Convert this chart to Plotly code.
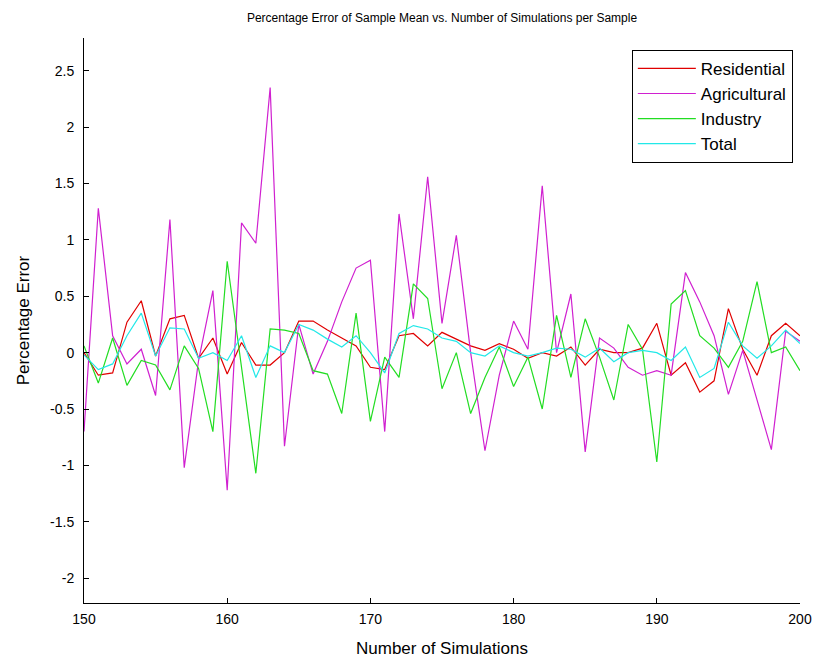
import plotly.graph_objects as go

simulations = list(range(150, 201))

residential = [0.0, -0.2, -0.18, 0.27, 0.46, -0.03, 0.3, 0.33, -0.05, 0.13,
               -0.19, 0.09, -0.11, -0.11, 0.0, 0.28, 0.28, 0.2, 0.13, 0.06,
               -0.13, -0.15, 0.15, 0.17, 0.06, 0.18, 0.12, 0.06, 0.02, 0.08,
               0.03, -0.05, 0.0, -0.03, 0.05, -0.11, 0.03, 0.0, 0.0, 0.04,
               0.26, -0.2, -0.09, -0.35, -0.25, 0.39, 0.03, -0.2, 0.15, 0.26,
               0.15]

agricultural = [-0.7, 1.28, 0.15, -0.1, 0.03, -0.38, 1.18, -1.02, -0.07, 0.55,
                -1.22, 1.15, 0.97, 2.35, -0.83, 0.25, -0.19, 0.1, 0.45, 0.75,
                0.82, -0.7, 1.23, 0.3, 1.56, 0.26, 1.04, 0.0, -0.87, -0.2,
                0.28, 0.03, 1.48, 0.0, 0.52, -0.88, 0.13, 0.04, -0.13, -0.2,
                -0.16, -0.2, 0.71, 0.45, 0.15, -0.37, 0.02, -0.42, -0.86, 0.19,
                0.1]

industry = [0.06, -0.27, 0.13, -0.29, -0.07, -0.11, -0.33, 0.06, -0.14, -0.7,
            0.81, -0.13, -1.07, 0.21, 0.2, 0.17, -0.16, -0.19, -0.54, 0.35,
            -0.61, -0.04, -0.22, 0.61, 0.48, -0.32, 0.0, -0.54, -0.22, 0.05,
            -0.3, -0.04, -0.5, 0.33, -0.22, 0.3, -0.04, -0.42, 0.25, 0.03,
            -0.97, 0.43, 0.55, 0.15, 0.04, -0.13, 0.1, 0.63, 0.0, 0.05,
            -0.16]

total = [-0.02, -0.15, -0.1, 0.15, 0.35, -0.03, 0.22, 0.21, -0.05, 0.0,
         -0.07, 0.15, -0.22, 0.06, 0.0, 0.25, 0.2, 0.12, 0.05, 0.15,
         0.0, -0.18, 0.17, 0.24, 0.21, 0.13, 0.1, 0.0, -0.03, 0.06,
         0.0, -0.03, 0.0, 0.04, 0.03, -0.04, 0.04, -0.08, 0.0, 0.02,
         0.0, -0.07, 0.05, -0.22, -0.14, 0.27, 0.06, -0.05, 0.06, 0.2,
         0.08]

x_tick_vals = [150, 160, 170, 180, 190, 200]
x_tick_text = ["150", "160", "170", "180", "190", "200"]
y_tick_vals = [2.5, 2, 1.5, 1, 0.5, 0, -0.5, -1, -1.5, -2]
y_tick_text = ["2.5", "2", "1.5", "1", "0.5", "0", "-0.5", "-1", "-1.5", "-2"]

series = [
    ("Residential", residential, "#e00000"),
    ("Agricultural", agricultural, "#d020d0"),
    ("Industry", industry, "#22dd22"),
    ("Total", total, "#22e8e8"),
]

fig = go.Figure()
for name, vals, color in series:
    fig.add_trace(go.Scatter(
        x=simulations, y=vals, mode="lines", name=name, legendgroup=name,
        line=dict(color=color, width=1.2),
    ))

font_family = "Liberation Sans, Arial, sans-serif"

fig.update_layout(
    width=816, height=664,
    margin=dict(l=84, r=16, t=38, b=61),
    paper_bgcolor="white", plot_bgcolor="white",
    font=dict(family=font_family, color="black", size=13),
    title=dict(
        text="Percentage Error of Sample Mean vs. Number of Simulations per Sample",
        x=(84 + 800) / 2 / 816, xanchor="center",
        y=1 - 18 / 664, yanchor="middle",
        font=dict(size=12, family=font_family, color="black"),
    ),
    xaxis=dict(
        range=[150, 200], tickvals=x_tick_vals, ticktext=x_tick_text,
        ticks="inside", ticklen=5, tickcolor="black", showline=True,
        linecolor="black", linewidth=1, showgrid=False, zeroline=False,
        tickfont=dict(size=14), ticklabelstandoff=3, automargin=False,
        title=dict(text="Number of Simulations", font=dict(size=17), standoff=16),
    ),
    yaxis=dict(
        range=[-2.22, 2.79], tickvals=y_tick_vals, ticktext=y_tick_text,
        ticks="inside", ticklen=5, tickcolor="black", showline=True,
        linecolor="black", linewidth=1, showgrid=False, zeroline=False,
        tickfont=dict(size=14), ticklabelstandoff=6, automargin=False,
        title=dict(text="Percentage Error", font=dict(size=17), standoff=16),
    ),
    legend=dict(
        x=0.99, xanchor="right", y=0.979, yanchor="top",
        bgcolor="white", bordercolor="black", borderwidth=1,
        font=dict(size=17), tracegroupgap=0, itemwidth=58,
    ),
)

fig.write_html("out.html")
